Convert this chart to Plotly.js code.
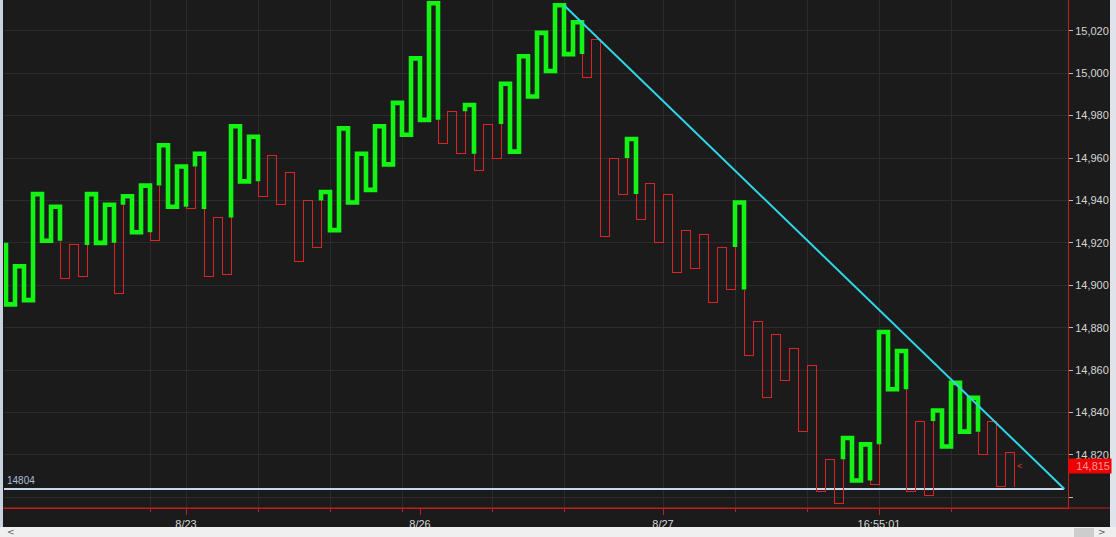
<!DOCTYPE html>
<html>
<head>
<meta charset="utf-8">
<script src="https://cdn.plot.ly/plotly-3.0.1.min.js"></script>
<style>
html,body{margin:0;padding:0;background:#1b1b1b;overflow:hidden;}
#chart{width:1116px;height:537px;}
.scatterlayer path.js-line{stroke-linejoin:miter !important;stroke-linecap:butt !important;}
.scatterlayer .trace:nth-child(1) path.js-line,
.scatterlayer .trace:nth-child(2) path.js-line{shape-rendering:crispEdges;}
</style>
</head>
<body>
<div id="chart"></div>
<script>
// ---- data ----
// Kagi reversal prices: start price, then every turning point (one vertical per column)
const reversals = [
  14920, 14891, 14909, 14893, 14943, 14921, 14937, 14903, 14919, 14904,
  14943, 14920, 14938, 14896, 14942, 14925, 14947, 14921, 14966, 14937,
  14956, 14936, 14962, 14904, 14932, 14905, 14975, 14949, 14970, 14942,
  14961, 14938, 14953, 14911, 14940, 14918, 14944, 14926, 14974, 14939,
  14962, 14945, 14975, 14957, 14986, 14971, 15007, 14978, 15033, 14967,
  14982, 14962, 14985, 14954, 14976, 14960, 14995, 14963, 15008, 14989,
  15019, 15001, 15032, 15009, 15024, 14998, 15016, 14923, 14960, 14943,
  14969, 14931, 14948, 14920, 14943, 14906, 14926, 14908, 14924, 14892,
  14918, 14898, 14939, 14867, 14883, 14847, 14877, 14855, 14870, 14831,
  14862, 14803, 14818, 14797, 14828, 14808, 14825, 14806, 14878, 14851,
  14869, 14803, 14836, 14801, 14841, 14824, 14854, 14831, 14847, 14820,
  14836, 14805, 14821, 14805
];
// Time labels placed at column indices
const timeTickCols = [20, 46, 73, 97];
const timeTickText = ['8/23', '8/26', '8/27', '16:55:01'];
// Vertical grid / minor tick columns
const gridCols = [16, 20, 28, 36, 44, 54, 62, 73, 81, 89, 97, 105];
// Price axis ticks
const priceTicks = [14800, 14820, 14840, 14860, 14880, 14900, 14920, 14940, 14960, 14980, 15000, 15020];
// Drawn lines: down trend line and support level
const trendCols = [62, 117.6];
const trendPrices = [15032, 14804];
const supportLevel = 14804;
const lastPrice = 14815;

// ---- build kagi path (yang = thick, yin = thin) ----
const P = reversals;
const pieces = [];
let yang = true;
let cur = {yang: true, xs: [0], ys: [P[0]]};
for (let i = 1; i < P.length; i++) {
  const c = i - 1;
  const a = P[i - 1], b = P[i];
  if (i >= 2) {
    const t = P[i - 2];
    const up = b > a;
    if ((up && !yang && b > t) || (!up && yang && b < t)) {
      cur.xs.push(c); cur.ys.push(t);
      pieces.push(cur);
      yang = !yang;
      cur = {yang: yang, xs: [c], ys: [t]};
    }
  }
  cur.xs.push(c); cur.ys.push(b);
  if (i < P.length - 1) { cur.xs.push(c + 1); cur.ys.push(b); }
}
pieces.push(cur);

function collect(flag) {
  const xs = [], ys = [];
  pieces.filter(p => p.yang === flag).forEach(p => {
    if (xs.length) { xs.push(null); ys.push(null); }
    xs.push(...p.xs); ys.push(...p.ys);
  });
  return {xs, ys};
}
const yinP = collect(false), yangP = collect(true);

const xMin = -0.222, xMax = 118;
const traces = [
  {x: [xMin, trendCols[1]], y: [supportLevel, supportLevel], mode: 'lines',
   line: {color: '#c6dcee', width: 2}, hoverinfo: 'skip'},
  {x: yinP.xs, y: yinP.ys, mode: 'lines', line: {color: '#dc2424', width: 1}, connectgaps: false, hoverinfo: 'skip'},
  {x: yangP.xs, y: yangP.ys, mode: 'lines', line: {color: '#14f414', width: 4.6}, connectgaps: false, hoverinfo: 'skip'},
  {x: trendCols, y: trendPrices, mode: 'lines', line: {color: '#2fd6e6', width: 2}, hoverinfo: 'skip'}
];

const W = 1116, H = 537, ml = 4, mr = 48, mt = 0, mb = 29;
const pw = W - ml - mr, ph = H - mt - mb;
const px = v => (v - ml) / pw;         // page x -> paper
const py = v => (ph + mt - v) / ph;    // page y -> paper

const layout = {
  width: W, height: H,
  margin: {l: ml, r: mr, t: mt, b: mb, pad: 0},
  paper_bgcolor: '#1b1b1b', plot_bgcolor: '#1b1b1b',
  showlegend: false,
  font: {family: 'Liberation Sans, Arial, sans-serif', size: 11, color: '#d6d6d6'},
  xaxis: {
    range: [xMin, xMax], zeroline: false, showgrid: false,
    showline: true, linecolor: '#c41e1e', linewidth: 1,
    tickvals: timeTickCols, ticktext: timeTickText,
    ticks: 'outside', ticklen: 6, tickcolor: '#c41e1e', tickwidth: 1,
    tickfont: {family: 'Liberation Sans, Arial, sans-serif', size: 11, color: '#d6d6d6'},
    minor: {tickvals: gridCols, showgrid: true, gridcolor: '#2b2b2b', gridwidth: 1,
            ticks: 'outside', ticklen: 3, tickcolor: '#c41e1e'},
    fixedrange: true
  },
  yaxis: {
    side: 'right', range: [14795, 15034.5], zeroline: false,
    tickvals: priceTicks,
    ticktext: priceTicks.map(v => v === 14800 ? '' : v.toLocaleString('en-US')),
    showgrid: true, gridcolor: '#2b2b2b', gridwidth: 1,
    showline: true, linecolor: '#c41e1e', linewidth: 1,
    ticks: 'outside', ticklen: 4, tickcolor: '#bcbcbc',
    tickfont: {family: 'Liberation Sans, Arial, sans-serif', size: 11, color: '#d6d6d6'},
    fixedrange: true
  },
  shapes: [
    // axis baseline extending under the price labels
    {type: 'line', xref: 'paper', yref: 'paper', x0: px(0), x1: px(1110), y0: 0, y1: 0,
     line: {color: '#c41e1e', width: 1}, layer: 'above'},
    // scrollbar strip at bottom
    {type: 'rect', xref: 'paper', yref: 'paper', x0: px(0), x1: px(1116), y0: py(527), y1: py(537),
     fillcolor: '#efefef', line: {width: 0}, layer: 'above'},
    {type: 'rect', xref: 'paper', yref: 'paper', x0: px(1074), x1: px(1094), y0: py(528), y1: py(537),
     fillcolor: '#cdcdcd', line: {width: 0}, layer: 'above'},
    // right edge strip
    {type: 'rect', xref: 'paper', yref: 'paper', x0: px(1110), x1: px(1116), y0: py(0), y1: py(527),
     fillcolor: '#dfe4ea', line: {width: 0}, layer: 'above'},
    // left edge strip
    {type: 'rect', xref: 'paper', yref: 'paper', x0: px(0), x1: px(3), y0: py(0), y1: py(527),
     fillcolor: '#c9d3de', line: {width: 0}, layer: 'above'}
  ],
  annotations: [
    {xref: 'paper', yref: 'y', x: px(5), y: supportLevel, xanchor: 'left', yanchor: 'bottom',
     text: String(supportLevel), showarrow: false, yshift: 1,
     font: {family: 'Liberation Sans, Arial, sans-serif', size: 10, color: '#a9bfd6'}},
    {xref: 'paper', yref: 'y', x: 1, y: lastPrice, xanchor: 'left', yanchor: 'middle',
     text: lastPrice.toLocaleString('en-US'), showarrow: false, bgcolor: '#ee0000',
     borderpad: 1, width: 40, align: 'right',
     font: {family: 'Liberation Sans, Arial, sans-serif', size: 11, color: '#ff9a9a'}},
    {xref: 'x', yref: 'y', x: 112.1, y: lastPrice, xanchor: 'left', yanchor: 'middle',
     text: '&lt;', showarrow: false,
     font: {family: 'Liberation Sans, Arial, sans-serif', size: 9, color: '#e03030'}},
    {xref: 'paper', yref: 'paper', x: px(5), y: py(532), xanchor: 'left', yanchor: 'middle',
     text: '&lt;', showarrow: false,
     font: {family: 'DejaVu Sans, sans-serif', size: 9, color: '#555'}},
    {xref: 'paper', yref: 'paper', x: px(1108), y: py(532), xanchor: 'right', yanchor: 'middle',
     text: '&gt;', showarrow: false,
     font: {family: 'DejaVu Sans, sans-serif', size: 9, color: '#555'}}
  ]
};

Plotly.newPlot('chart', traces, layout, {staticPlot: true, displayModeBar: false});
</script>
</body>
</html>
